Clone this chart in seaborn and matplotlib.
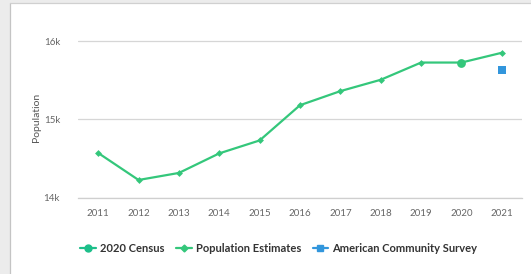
import matplotlib
matplotlib.use("Agg")
import matplotlib.pyplot as plt
import seaborn as sns
import pandas as pd
from matplotlib.lines import Line2D
from matplotlib.patches import Rectangle
from matplotlib.ticker import FuncFormatter, FixedLocator

# data
years = ["2011", "2012", "2013", "2014", "2015", "2016",
         "2017", "2018", "2019", "2020", "2021"]
estimates = [14570, 14225, 14315, 14565, 14730, 15180,
             15360, 15505, 15725, 15725, 15850]
census_years = ["2020"]
census_values = [15715]
acs_years = ["2021"]
acs_values = [15625]

green = "#34c77b"
teal = "#1dbf8a"
blue = "#3296dc"

sns.set_style("white")
plt.rcParams["font.family"] = ["Lato", "DejaVu Sans"]

fig = plt.figure(figsize=(5.31, 2.74), dpi=100)
fig.patch.set_facecolor("#ececec")
# card background with a border on the left and top only
x0, y1 = 10 / 531, 1 - 2.5 / 274
fig.add_artist(Rectangle((x0, 0), 1, y1, transform=fig.transFigure,
                         facecolor="white", edgecolor="none", zorder=0))
fig.add_artist(Line2D([x0, x0], [0, y1], transform=fig.transFigure, color="#c4c4c4", lw=0.9))
fig.add_artist(Line2D([x0, 1], [y1, y1], transform=fig.transFigure, color="#d0d0d0", lw=0.9))

ax = fig.add_axes([78 / 531, 76.4 / 274, 444 / 531, 160.5 / 274])
ax.set_facecolor("none")

df_est = pd.DataFrame({"year": years, "population": estimates})
df_census = pd.DataFrame({"year": census_years, "population": census_values})
df_acs = pd.DataFrame({"year": acs_years, "population": acs_values})

sns.lineplot(data=df_est, x="year", y="population", ax=ax, color=green,
             linewidth=1.6, marker="D", markersize=3.5, markeredgewidth=0, zorder=3)
sns.scatterplot(data=df_census, x="year", y="population", ax=ax, color=green,
                marker="o", s=40, linewidth=0, zorder=4)
sns.scatterplot(data=df_acs, x="year", y="population", ax=ax, color=blue,
                marker="s", s=28, linewidth=0, zorder=4)

ax.set_xlim(-0.5, len(years) - 0.5)
ax.set_ylim(14000, 16050)
ax.set_yticks([14000, 15000, 16000])
ax.yaxis.set_major_formatter(FuncFormatter(lambda v, p: f"{int(v / 1000)}k"))
ax.grid(axis="y", color="#d6d6d6", linewidth=0.9)
ax.set_axisbelow(True)

ax.xaxis.set_minor_locator(FixedLocator([i - 0.5 for i in range(len(years) + 1)]))
ax.tick_params(axis="x", which="minor", length=6, width=0.8, color="#cfcfcf")
ax.tick_params(axis="x", which="major", length=0, pad=8, labelsize=7, labelcolor="#666666")
ax.tick_params(axis="y", length=0, pad=13, labelsize=7, labelcolor="#666666")

for side in ["top", "right", "left"]:
    ax.spines[side].set_visible(False)
ax.spines["bottom"].set_color("#cfcfcf")
ax.spines["bottom"].set_linewidth(0.9)

ax.set_xlabel("")
ax.set_ylabel("Population", fontsize=7.5, color="#555555", labelpad=1.5)

handles = [
    Line2D([], [], color=teal, marker="o", markersize=5, linewidth=1.6),
    Line2D([], [], color=green, marker="D", markersize=3.5, linewidth=1.6),
    Line2D([], [], color=blue, marker="s", markersize=5, linewidth=1.6),
]
labels = ["2020 Census", "Population Estimates", "American Community Survey"]
leg = fig.legend(handles, labels, loc="center", bbox_to_anchor=(279 / 531, 1 - 248 / 274),
                 ncol=3, frameon=False, handlelength=1.4, handletextpad=0.4,
                 columnspacing=1.0, prop={"size": 8, "weight": "bold"})
for t in leg.get_texts():
    t.set_color("#333333")

fig.savefig("out.png", dpi=100, facecolor=fig.get_facecolor())
